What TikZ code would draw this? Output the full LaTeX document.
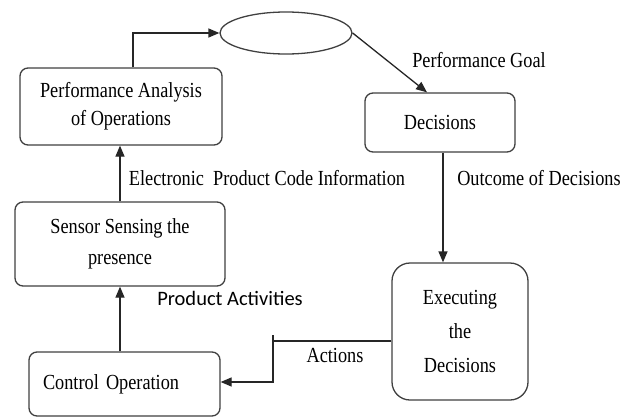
\documentclass[tikz,border=0pt]{standalone}
\usepackage{fontspec}
\setmainfont{Liberation Serif}[FakeStretch=0.85]
\newfontfamily\calibrifont{Carlito}
\usetikzlibrary{arrows.meta}
\usetikzlibrary{shapes.geometric}

\begin{document}
\begin{tikzpicture}[x=1pt,y=-1pt]
            \tikzstyle{edge}=[draw=black!85,line width=1.3pt,-]
            \tikzstyle{arr}=[edge,-{Triangle[length=11pt,width=9pt]}]
            \tikzstyle{box}=[rectangle,rounded corners=8pt,draw=black!75,line width=1.3pt,fill=white,align=center,font=\fontsize{21.5}{28}\selectfont]
            \tikzstyle{lbl}=[inner sep=0pt,font=\fontsize{21.5}{22}\selectfont]

            \useasboundingbox (0,0) rectangle (638,418);

            % blocks
            \node[box,minimum width=202pt,minimum height=77pt] (pa)  at (121,106.5) {Performance Analysis\\of Operations};
            \node[ellipse,draw=black!75,line width=1.3pt,minimum width=132pt,minimum height=42pt] (ell) at (286,33) {};
            \node[box,minimum width=150pt,minimum height=59pt] (dec) at (440,122.5) {Decisions};
            \node[box,rounded corners=18pt,minimum width=136pt,minimum height=137pt,font=\fontsize{21.5}{34}\selectfont] (exe) at (460,331.5) {Executing\\the\\Decisions};
            \node[box,minimum width=210pt,minimum height=84pt,font=\fontsize{21.5}{31}\selectfont] (sen) at (120,244) {Sensor Sensing the\\presence};
            \node[box,text width=163pt,inner xsep=14pt,align=left,minimum height=64pt] (ctl) at (124.5,384) {Control Operation};

            % labels
            \node[lbl] (goal) at (479,60) {Performance Goal};
            \node[lbl] (epc)  at (267,178) {Electronic\ \ Product Code Information};
            \node[lbl] (out)  at (539,178) {Outcome of Decisions};
            \node[lbl,font=\calibrifont\fontsize{20.5}{24}\selectfont] (act) at (230,298) {Product Activities};
            \node[lbl] (acts) at (335,355) {Actions};

            % flow
            \path[arr] ([xshift=12pt]pa.north) |- (ell.west);
            \path[arr] (ell.east) -- ([xshift=-13pt]dec.north);
            \path[arr] ([xshift=3pt]dec.south) -- ([xshift=3pt]dec.south |- exe.north);
            \path[arr] (sen.north) -- (sen.north |- pa.south);
            \path[arr] (sen.south |- ctl.north) -- (sen.south);

            \coordinate (knee) at (273,341);
            \path[edge] ([yshift=-9.5pt]exe.west) -- (knee);
            \path[arr] ([yshift=6pt]knee) |- ([yshift=2pt]ctl.east);
        \end{tikzpicture}
\end{document}
